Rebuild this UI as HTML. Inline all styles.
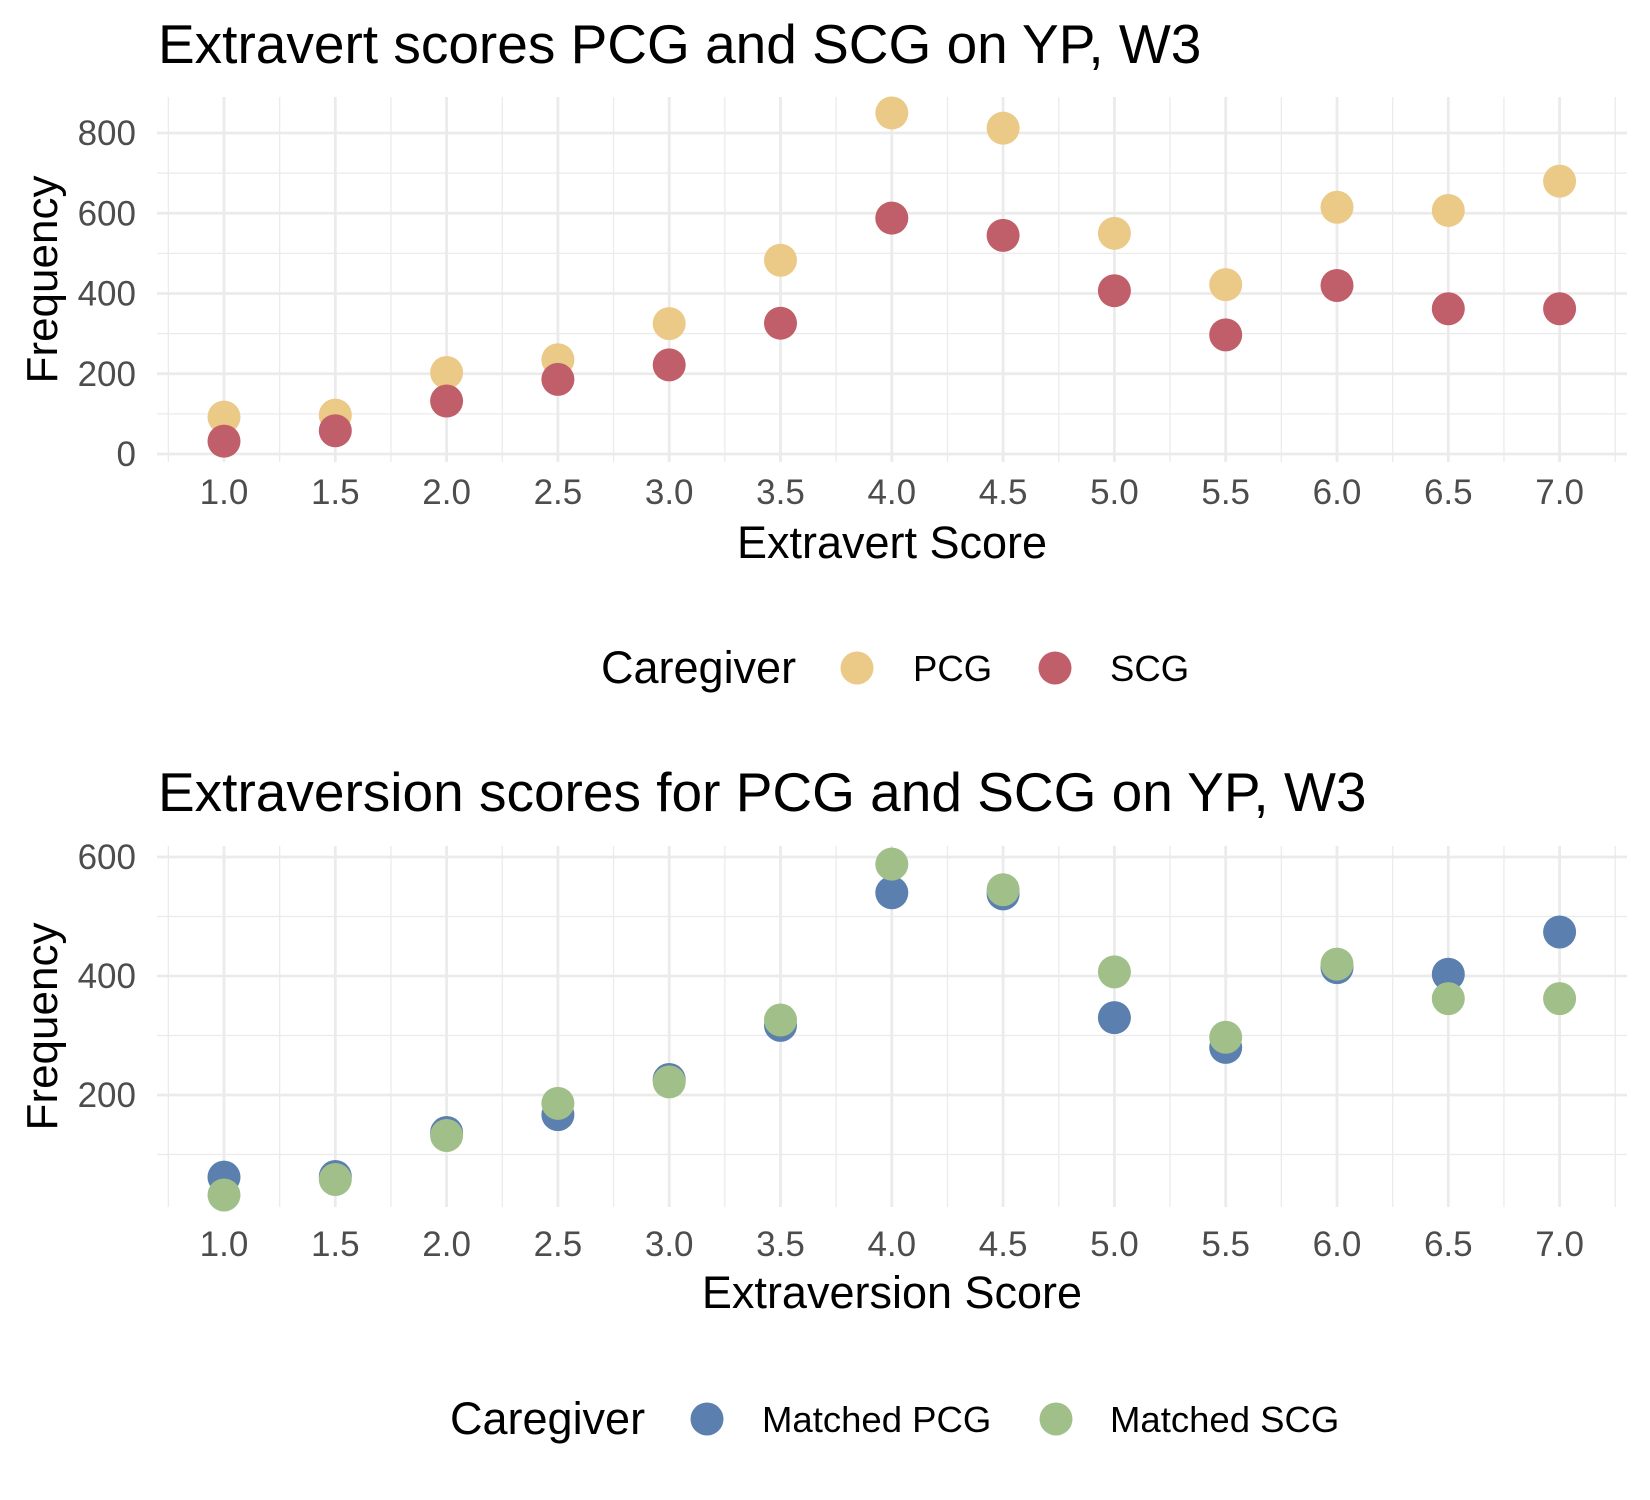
<!DOCTYPE html>
<html><head><meta charset="utf-8"><style>
html,body{margin:0;padding:0;background:#fff;}
svg{display:block;font-family:"Liberation Sans",Arial,sans-serif;}
</style></head><body>
<svg id="chart" width="1650" height="1500" viewBox="0 0 1650 1500">
<g id="top"></g>
<g id="bot"></g>
</svg>
<script>
const scores = [1.0,1.5,2.0,2.5,3.0,3.5,4.0,4.5,5.0,5.5,6.0,6.5,7.0];
const xTickLabels = ["1.0","1.5","2.0","2.5","3.0","3.5","4.0","4.5","5.0","5.5","6.0","6.5","7.0"];
const pcgValues = [92,97,203,235,325,483,850,812,550,422,615,607,680];
const scgValues = [32,58,132,186,222,326,588,545,407,297,420,362,362];
const matchedPcgValues = [62,63,137,167,226,317,540,538,330,280,414,403,474];
const matchedScgValues = [32,58,132,186,222,326,588,545,407,297,420,362,362];
const topYTicks = [0,200,400,600,800];
const botYTicks = [200,400,600];

const NS="http://www.w3.org/2000/svg";
function mk(parent,tag,attrs,text){const e=document.createElementNS(NS,tag);for(const k in attrs)e.setAttribute(k,attrs[k]);if(text!==undefined)e.textContent=text;parent.appendChild(e);return e;}

function drawPanel(g,cfg){
  const L=157,R=1627,T=cfg.top,B=cfg.bottom;
  const x=v=>224+(v-1)*222.6;
  const y=cfg.y;
  for(let v=0.75;v<=7.3;v+=0.5){const l=mk(g,'line',{x1:x(v),x2:x(v),y1:T,y2:B,stroke:'#ebebeb','stroke-width':1.3});
    
    }
  cfg.minorY.forEach(v=>{const l=mk(g,'line',{x1:L,x2:R,y1:y(v),y2:y(v),stroke:'#ebebeb','stroke-width':1.3});
    
    });
  scores.forEach((v,i)=>{const l=mk(g,'line',{x1:x(v),x2:x(v),y1:T,y2:B,stroke:'#ebebeb','stroke-width':2.8});
    
    
    const t=mk(g,'text',{x:x(v),y:cfg.tickY,'text-anchor':'middle','font-size':35,fill:'#4d4d4d'},xTickLabels[i]);
    
    });
  cfg.yTicks.forEach(v=>{const l=mk(g,'line',{x1:L,x2:R,y1:y(v),y2:y(v),stroke:'#ebebeb','stroke-width':2.8});
    
    
    const t=mk(g,'text',{x:136,y:y(v)+12,'text-anchor':'end','font-size':35,fill:'#4d4d4d'},String(v));
    
    });
  cfg.series.forEach(s=>{s.values.forEach((val,i)=>{const c=mk(g,'circle',{cx:x(scores[i]),cy:y(val),r:16.5,fill:s.color});
    
    });});
  const ti=mk(g,'text',{x:158,y:cfg.titleY,'font-size':55,fill:'#000'},cfg.title);
  
  
  const xt=mk(g,'text',{x:(224+1560)/2,y:cfg.xTitleY,'text-anchor':'middle','font-size':45,fill:'#000'},cfg.xTitle);
  
  
  const yc=(T+B)/2;
  const yt=mk(g,'text',{x:0,y:0,'text-anchor':'middle','font-size':44,fill:'#000',transform:`translate(57,${yc}) rotate(-90)`},'Frequency');
  
  
  const lg=cfg.legend;
  const lt=mk(g,'text',{x:lg.titleX,y:lg.y+15,'font-size':45,fill:'#000'},'Caregiver');
  
  
  cfg.series.forEach((s,i)=>{
    const c=mk(g,'circle',{cx:lg.cx[i],cy:lg.y,r:16.5,fill:s.color});
    
    
    const t=mk(g,'text',{x:lg.tx[i],y:lg.y+13,'font-size':36.5,fill:'#000'},s.label);
    
    
  });
}

drawPanel(document.getElementById('top'),{
  top:97,bottom:462,y:v=>454-v*0.40125,
  minorY:[100,300,500,700],yTicks:topYTicks,tickY:504,
  title:'Extravert scores PCG and SCG on YP, W3',titleY:63,
  xTitle:'Extravert Score',xTitleY:558,
  series:[{name:'pcg',label:'PCG',color:'#EBC987',values:pcgValues},{name:'scg',label:'SCG',color:'#C05E69',values:scgValues}],
  legend:{y:668,titleX:601,cx:[857,1055],tx:[913,1110]}
});
drawPanel(document.getElementById('bot'),{
  top:846,bottom:1207,y:v=>1095-(v-200)*0.595,
  minorY:[100,300,500],yTicks:botYTicks,tickY:1256,
  title:'Extraversion scores for PCG and SCG on YP, W3',titleY:811,
  xTitle:'Extraversion Score',xTitleY:1308,
  series:[{name:'matched-pcg',label:'Matched PCG',color:'#5B7FAE',values:matchedPcgValues},{name:'matched-scg',label:'Matched SCG',color:'#A0BF89',values:matchedScgValues}],
  legend:{y:1419,titleX:450,cx:[707,1056],tx:[762,1110]}
});
</script>
</body></html>
